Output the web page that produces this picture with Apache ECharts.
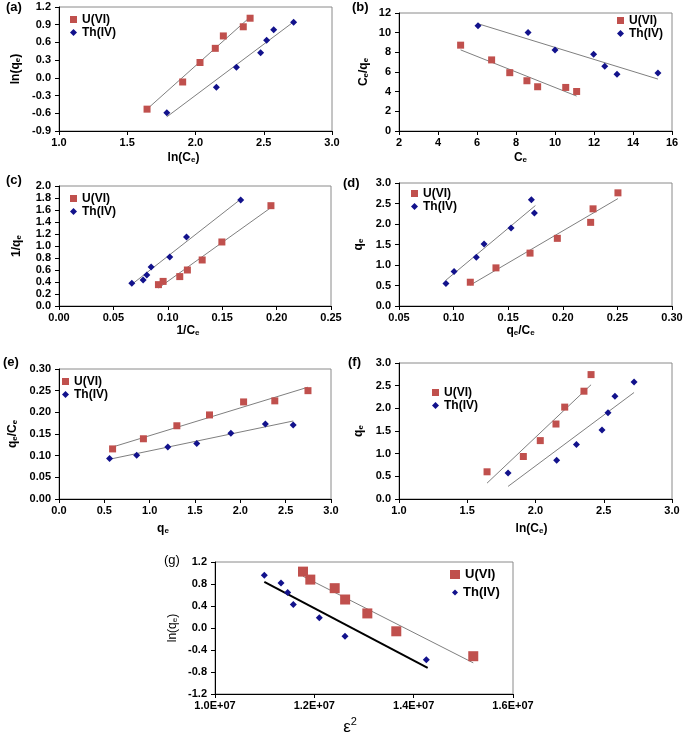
<!DOCTYPE html>
<html><head><meta charset="utf-8">
<script src="https://cdn.jsdelivr.net/npm/echarts@6/dist/echarts.min.js"></script>
<style>html,body{margin:0;padding:0;background:#fff}#c{width:685px;height:735px}</style>
</head><body><div id="c"></div>
<script>
// ---------- data ----------
const aU = [[1.645,-0.53],[1.906,-0.07],[2.033,0.26],[2.145,0.50],[2.204,0.71],[2.35,0.865],[2.40,1.01]];
const aTh = [[1.79,-0.59],[2.153,-0.16],[2.30,0.18],[2.477,0.425],[2.521,0.635],[2.573,0.814],[2.719,0.94]];
const aUfit = [[1.645,-0.53],[2.40,1.03]];
const aThfit = [[1.79,-0.66],[2.72,0.95]];

const bU = [[5.16,8.73],[6.75,7.23],[7.68,5.93],[8.56,5.11],[9.11,4.50],[10.55,4.43],[11.11,4.02]];
const bTh = [[6.05,10.70],[8.62,10.02],[10.0,8.25],[11.98,7.81],[12.55,6.58],[13.18,5.76],[15.28,5.90]];
const bUfit = [[5.16,8.25],[11.11,3.55]];
const bThfit = [[6.05,10.91],[15.28,5.28]];

const cU = [[0.0914,0.356],[0.0957,0.41],[0.111,0.49],[0.118,0.60],[0.1316,0.767],[0.1497,1.067],[0.1948,1.672]];
const cTh = [[0.0669,0.378],[0.0773,0.433],[0.0807,0.517],[0.0847,0.65],[0.1018,0.817],[0.1172,1.15],[0.167,1.767]];
const cUfit = [[0.0914,0.30],[0.1948,1.64]];
const cThfit = [[0.0669,0.36],[0.167,1.78]];

const dU = [[0.1153,0.58],[0.1388,0.93],[0.170,1.29],[0.195,1.65],[0.2255,2.04],[0.2277,2.37],[0.2505,2.76]];
const dTh = [[0.093,0.546],[0.1004,0.84],[0.1208,1.19],[0.1279,1.51],[0.1526,1.90],[0.1712,2.59],[0.174,2.27]];
const dUfit = [[0.1153,0.51],[0.2505,2.62]];
const dThfit = [[0.093,0.63],[0.1749,2.45]];

const eU = [[0.591,0.1156],[0.931,0.139],[1.30,0.169],[1.66,0.194],[2.036,0.224],[2.38,0.2265],[2.746,0.250]];
const eTh = [[0.558,0.0934],[0.857,0.101],[1.20,0.120],[1.519,0.128],[1.896,0.152],[2.276,0.173],[2.583,0.1707]];
const eUfit = [[0.591,0.120],[2.746,0.258]];
const eThfit = [[0.558,0.0918],[2.583,0.180]];

const fU = [[1.645,0.60],[1.911,0.937],[2.035,1.288],[2.15,1.654],[2.214,2.027],[2.355,2.378],[2.407,2.744]];
const fTh = [[1.799,0.571],[2.155,0.856],[2.30,1.20],[2.487,1.522],[2.531,1.902],[2.582,2.268],[2.722,2.583]];
const fUfit = [[1.645,0.35],[2.407,2.52]];
const fThfit = [[1.799,0.278],[2.722,2.349]];

const gU = [[1.1772e7,1.025],[1.1919e7,0.88],[1.241e7,0.724],[1.262e7,0.518],[1.3067e7,0.265],[1.365e7,-0.06],[1.520e7,-0.513]];
const gTh = [[1.0993e7,0.959],[1.1329e7,0.82],[1.1463e7,0.645],[1.1577e7,0.428],[1.21e7,0.187],[1.2617e7,-0.151],[1.4255e7,-0.579]];
const gUfit = [[1.1772e7,0.94],[1.52e7,-0.634]];
const gThfit = [[1.0993e7,0.838],[1.4282e7,-0.724]];

const seriesNames = ['U(VI)', 'Th(IV)'];
const panelLabels = ['(a)','(b)','(c)','(d)','(e)','(f)','(g)'];

// ---------- styling / layout ----------
const FF = '"Liberation Sans", Arial, sans-serif';
const RED = '#C0504D', NAVY = '#12128C';
const rich = {
  m: {fontFamily: FF, fontSize: 12, fontWeight: 'bold', color: '#000', lineHeight: 16, verticalAlign: 'bottom'},
  s: {fontFamily: FF, fontSize: 8, fontWeight: 'bold', color: '#000', lineHeight: 12, verticalAlign: 'bottom'},
  gm: {fontFamily: FF, fontSize: 12, color: '#000', lineHeight: 16, verticalAlign: 'bottom'},
  gs: {fontFamily: FF, fontSize: 8, color: '#000', lineHeight: 12, verticalAlign: 'bottom'},
  e: {fontFamily: FF, fontSize: 17, color: '#000', lineHeight: 20, verticalAlign: 'bottom'},
  p: {fontFamily: FF, fontSize: 11, color: '#000', lineHeight: 20, verticalAlign: 'top'}
};

const panels = [
  {grid:{left:59,top:7,width:273,height:124}, x:[1,3,0.5,v=>v.toFixed(1)], y:[-0.9,1.2,0.3,v=>v.toFixed(1)],
   xn:'{m|ln(C}{s|e}{m|)}', xg:17, xpad:[0,24,0,0], yn:'{m|ln(q}{s|e}{m|)}', yg:37,
   U:aU, Th:aTh, Uf:aUfit, Thf:aThfit, leg:{left:70,top:13}, lab:{left:6,top:1}},
  {grid:{left:399,top:13,width:273,height:118}, x:[2,16,2,v=>v.toFixed(0)], y:[0,12,2,v=>v.toFixed(0)],
   xn:'{m|C}{s|e}', xg:17, xpad:[0,30,0,0], yn:'{m|C}{s|e}{m|/q}{s|e}', yg:29,
   U:bU, Th:bTh, Uf:bUfit, Thf:bThfit, leg:{left:617,top:14}, lab:{left:352,top:1}},
  {grid:{left:59,top:186,width:272,height:120}, x:[0,0.25,0.05,v=>v.toFixed(2)], y:[0,2,0.2,v=>v.toFixed(1)],
   xn:'{m|1/C}{s|e}', xg:15, xpad:[0,14,0,0], yn:'{m|1/q}{s|e}', yg:36,
   U:cU, Th:cTh, Uf:cUfit, Thf:cThfit, leg:{left:70,top:192}, lab:{left:6,top:174}},
  {grid:{left:399,top:183,width:273,height:123}, x:[0.05,0.30,0.05,v=>v.toFixed(2)], y:[0,3,0.5,v=>v.toFixed(1)],
   xn:'{m|q}{s|e}{m|/C}{s|e}', xg:15, xpad:[0,30,0,0], yn:'{m|q}{s|e}', yg:34,
   U:dU, Th:dTh, Uf:dUfit, Thf:dThfit, leg:{left:411,top:187}, lab:{left:343,top:177}},
  {grid:{left:59,top:369,width:272,height:130}, x:[0,3,0.5,v=>v.toFixed(1)], y:[0,0.30,0.05,v=>v.toFixed(2)],
   xn:'{m|q}{s|e}', xg:20, xpad:[0,64,0,0], yn:'{m|q}{s|e}{m|/C}{s|e}', yg:40,
   U:eU, Th:eTh, Uf:eUfit, Thf:eThfit, leg:{left:62,top:375}, lab:{left:3,top:356}},
  {grid:{left:399,top:363,width:273,height:136}, x:[1,3,0.5,v=>v.toFixed(1)], y:[0,3,0.5,v=>v.toFixed(1)],
   xn:'{m|ln(C}{s|e}{m|)}', xg:20, xpad:[0,8,0,0], yn:'{m|q}{s|e}', yg:34,
   U:fU, Th:fTh, Uf:fUfit, Thf:fThfit, leg:{left:432,top:386}, lab:{left:348,top:356}},
  {grid:{left:215,top:562,width:298,height:132}, x:[1e7,1.6e7,2e6,v=>(v/1e7).toFixed(1)+'E+07'], y:[-1.2,1.2,0.4,v=>v.toFixed(1)],
   xn:'{e|ε}{p|2}', xg:22, xpad:[0,28,0,0], yn:'{gm|ln(q}{gs|e}{gm|)}', yg:36,
   U:gU, Th:gTh, Uf:gUfit, Thf:gThfit, leg:{left:450,top:567}, lab:{left:164,top:554}, big:true}
];

const option = {animation:false, backgroundColor:'#fff', grid:[], xAxis:[], yAxis:[], series:[], legend:[], title:[]};

panels.forEach((p, i) => {
  option.grid.push(Object.assign({show:true, borderColor:'#8a8a8a', borderWidth:1, backgroundColor:'transparent',
    containLabel:false, outerBoundsMode:'none'}, p.grid));
  const axisCommon = {
    gridIndex:i, type:'value', splitLine:{show:false},
    axisLine:{show:true, onZero:false, lineStyle:{color:'#000', width:1}},
    axisTick:{show:true, inside:false, length:4, lineStyle:{color:'#000'}},
    nameLocation:'middle'
  };
  option.xAxis.push(Object.assign({}, axisCommon, {
    min:p.x[0], max:p.x[1], interval:p.x[2],
    axisLabel:{formatter:p.x[3], fontFamily:FF, fontSize:11, fontWeight:'bold', color:'#000', margin:6},
    name:p.xn, nameGap:p.xg, nameTextStyle:{rich:rich, padding:p.xpad}
  }));
  option.yAxis.push(Object.assign({}, axisCommon, {
    min:p.y[0], max:p.y[1], interval:p.y[2],
    axisLabel:{formatter:p.y[3], fontFamily:FF, fontSize:11, fontWeight:'bold', color:'#000', margin:8},
    name:p.yn, nameGap:p.yg, nameRotate:90, nameTextStyle:{rich:rich}
  }));
  const big = !!p.big;
  option.series.push({type:'line', xAxisIndex:i, yAxisIndex:i, data:p.Uf, symbol:'none', silent:true,
    lineStyle:{color:'#7f7f7f', width:1}, z:2});
  option.series.push({type:'line', xAxisIndex:i, yAxisIndex:i, data:p.Thf, symbol:'none', silent:true,
    lineStyle:{color: big ? '#000' : '#7f7f7f', width: big ? 2 : 1}, z:2});
  option.series.push({type:'scatter', name:seriesNames[0], xAxisIndex:i, yAxisIndex:i, data:p.U,
    symbol:'rect', symbolSize: big ? 10 : 7, itemStyle:{color:RED, opacity:1}, z:3});
  option.series.push({type:'scatter', name:seriesNames[1], xAxisIndex:i, yAxisIndex:i, data:p.Th,
    symbol:'diamond', symbolSize:7, itemStyle:{color:NAVY, opacity:1}, z:3});
  const legTxt = {fontFamily:FF, fontSize: big ? 13 : 12, fontWeight:'bold', color:'#000', lineHeight: big ? 15 : 13};
  if (!big) {
    option.legend.push({
      orient:'vertical', left:p.leg.left, top:p.leg.top, itemGap:0,
      itemWidth:7, itemHeight:7, padding:0, selectedMode:false,
      data:[{name:seriesNames[0], icon:'rect'}, {name:seriesNames[1], icon:'diamond'}],
      textStyle:legTxt
    });
  } else {
    option.legend.push({
      orient:'vertical', left:p.leg.left, top:p.leg.top, itemGap:0,
      itemWidth:10, itemHeight:9, padding:0, selectedMode:false,
      data:[{name:seriesNames[0], icon:'rect'}], textStyle:legTxt
    });
    option.legend.push({
      orient:'vertical', left:p.leg.left + 2, top:p.leg.top + 18, itemGap:0,
      itemWidth:6, itemHeight:6, padding:0, selectedMode:false,
      data:[{name:seriesNames[1], icon:'diamond'}], textStyle:legTxt
    });
  }
  option.title.push({text:panelLabels[i], left:p.lab.left, top:p.lab.top, padding:0,
    textStyle:{fontFamily:FF, fontSize:13, fontWeight: big ? 'normal' : 'bold', color:'#000'}});
});

const chart = echarts.init(document.getElementById('c'), null, {renderer:'canvas'});
chart.setOption(option);
</script>
</body></html>
